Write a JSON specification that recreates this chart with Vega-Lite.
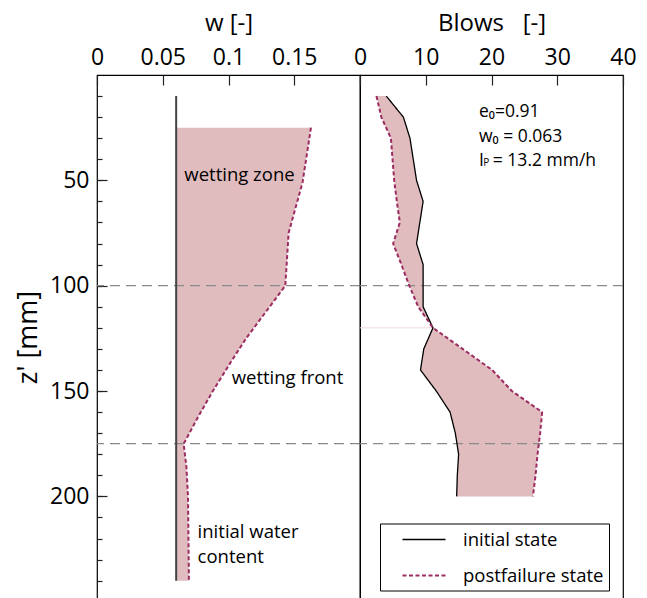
{
  "$schema": "https://vega.github.io/schema/vega-lite/v6.json",
  "background": "white",
  "padding": {"left": 13, "top": 10, "right": 0, "bottom": 0},
  "bounds": "flush",
  "spacing": 0,
  "config": {
    "font": "Open Sans",
    "view": {"stroke": "#000", "strokeWidth": 1.2},
    "axis": {
      "domain": false,
      "grid": false,
      "tickColor": "#222",
      "tickWidth": 1.2,
      "labelColor": "#000",
      "titleColor": "#000",
      "labelFont": "Open Sans",
      "titleFont": "Open Sans",
      "titleFontWeight": "normal",
      "labelFontSize": 23,
      "titleFontSize": 24,
      "labelOverlap": false,
      "labelFlush": false
    },
    "text": {"font": "Open Sans", "color": "#000"}
  },
  "datasets": {
    "water_content": [
      {"z": 10, "w_initial": 0.0602, "w_post": null},
      {"z": 25, "w_initial": 0.0602, "w_post": 0.1627},
      {"z": 51, "w_initial": 0.0602, "w_post": 0.1563},
      {"z": 75, "w_initial": 0.0602, "w_post": 0.1457},
      {"z": 100, "w_initial": 0.0602, "w_post": 0.1432},
      {"z": 125, "w_initial": 0.0602, "w_post": 0.1134},
      {"z": 136, "w_initial": 0.0602, "w_post": 0.102},
      {"z": 150, "w_initial": 0.0602, "w_post": 0.0881},
      {"z": 161, "w_initial": 0.0602, "w_post": 0.078},
      {"z": 175, "w_initial": 0.0602, "w_post": 0.0659},
      {"z": 186, "w_initial": 0.0602, "w_post": 0.068},
      {"z": 200, "w_initial": 0.0602, "w_post": 0.0692},
      {"z": 240, "w_initial": 0.0602, "w_post": 0.0699}
    ],
    "blows": [
      {"z": 10, "initial state": 4.0, "postfailure state": 2.5},
      {"z": 20, "initial state": 6.6, "postfailure state": 3.25},
      {"z": 30, "initial state": 7.6, "postfailure state": 4.7},
      {"z": 40, "initial state": 8.1, "postfailure state": 4.95},
      {"z": 50, "initial state": 8.6, "postfailure state": 5.2},
      {"z": 60, "initial state": 9.6, "postfailure state": 5.6},
      {"z": 70, "initial state": 9.1, "postfailure state": 6.06},
      {"z": 80, "initial state": 8.6, "postfailure state": 5.04},
      {"z": 90, "initial state": 9.6, "postfailure state": 6.3},
      {"z": 100, "initial state": 9.6, "postfailure state": 7.5},
      {"z": 110, "initial state": 9.6, "postfailure state": 8.85},
      {"z": 120, "initial state": 11.1, "postfailure state": 11.1},
      {"z": 130, "initial state": 9.7, "postfailure state": 15.6},
      {"z": 140, "initial state": 9.2, "postfailure state": 20.1},
      {"z": 150, "initial state": 11.6, "postfailure state": 23.1},
      {"z": 160, "initial state": 13.7, "postfailure state": 27.7},
      {"z": 170, "initial state": 14.5, "postfailure state": 27.4},
      {"z": 180, "initial state": 15.0, "postfailure state": 27.0},
      {"z": 190, "initial state": 14.8, "postfailure state": 26.7},
      {"z": 200, "initial state": 14.7, "postfailure state": 26.3}
    ],
    "boundaries": [{"z": 100}, {"z": 175}],
    "crossing": [{"z": 120, "b_start": 0, "b_end": 11.1}],
    "zone_labels": [
      {"w": 0.0664, "z": 50.3, "label": "wetting zone"},
      {"w": 0.1024, "z": 146.8, "label": "wetting front"},
      {"w": 0.0765, "z": 219.9, "label": "initial water"},
      {"w": 0.0765, "z": 231.4, "label": "content"}
    ],
    "test_conditions": [
      {"b": 18.1, "z": 19.8, "label": "e₀=0.91"},
      {"b": 18.1, "z": 32.0, "label": "w₀ = 0.063"},
      {"b": 18.1, "z": 43.3, "label": "I"},
      {"b": 20.2, "z": 43.3, "label": "= 13.2 mm/h"}
    ],
    "test_subscripts": [
      {"b": 18.75, "z": 43.3, "label": "P"}
    ]
  },
  "hconcat": [
    {
      "width": 263,
      "height": 524,
      "resolve": {"axis": {"y": "independent"}},
      "layer": [
        {
          "data": {"name": "water_content"},
          "transform": [{"filter": "datum.w_post != null"}],
          "mark": {"type": "area", "orient": "horizontal", "color": "#e1bcbe"},
          "encoding": {
            "y": {
              "field": "z",
              "type": "quantitative",
              "scale": {"domain": [0, 248.7], "reverse": true, "nice": false, "zero": false},
              "axis": {
                "orient": "left",
                "values": [10, 20, 30, 40, 50, 60, 70, 80, 90, 100, 110, 120, 130, 140, 150, 160, 170, 180, 190, 200, 210, 220, 230, 240],
                "labelExpr": "datum.value % 50 === 0 ? datum.label : ''",
                "labelOverlap": false,
                "tickSize": -5,
                "labelPadding": 13,
                "title": "z' [mm]",
                "titleFontSize": 27,
                "titlePadding": 7
              }
            },
            "x": {
              "field": "w_initial",
              "type": "quantitative",
              "scale": {"domain": [0, 0.2], "nice": false},
              "axis": {
                "orient": "top",
                "values": [0, 0.05, 0.1, 0.15],
                "format": "~g",
                "tickSize": -10,
                "labelPadding": 16,
                "title": "w [-]",
                "titlePadding": 11
              }
            },
            "x2": {"field": "w_post"}
          }
        },
        {
          "data": {"name": "boundaries"},
          "mark": {"type": "rule", "color": "#8a8a8a", "strokeDash": [10, 6], "strokeWidth": 1.3},
          "encoding": {
            "y": {
              "field": "z",
              "type": "quantitative",
              "axis": {
                "orient": "left",
                "values": [50, 100, 150, 200],
                "tickSize": -10,
                "labels": false,
                "title": null
              }
            }
          }
        },
        {
          "data": {"name": "water_content"},
          "mark": {"type": "line", "color": "#444", "strokeWidth": 2},
          "encoding": {
            "x": {"field": "w_initial", "type": "quantitative"},
            "y": {"field": "z", "type": "quantitative", "axis": null},
            "order": {"field": "z", "type": "quantitative"}
          }
        },
        {
          "data": {"name": "water_content"},
          "transform": [{"filter": "datum.w_post != null"}],
          "mark": {"type": "line", "color": "#9b2c62", "strokeDash": [4, 2.5], "strokeWidth": 2},
          "encoding": {
            "x": {"field": "w_post", "type": "quantitative"},
            "y": {"field": "z", "type": "quantitative", "axis": null},
            "order": {"field": "z", "type": "quantitative"}
          }
        },
        {
          "data": {"name": "zone_labels"},
          "mark": {"type": "text", "align": "left", "baseline": "alphabetic", "fontSize": 18.5},
          "encoding": {
            "x": {"field": "w", "type": "quantitative"},
            "y": {"field": "z", "type": "quantitative", "axis": null},
            "text": {"field": "label"}
          }
        }
      ]
    },
    {
      "width": 263,
      "height": 524,
      "layer": [
        {
          "data": {"name": "blows"},
          "mark": {"type": "area", "orient": "horizontal", "color": "#e1bcbe"},
          "encoding": {
            "y": {
              "field": "z",
              "type": "quantitative",
              "scale": {"domain": [0, 248.7], "reverse": true, "nice": false, "zero": false},
              "axis": null
            },
            "x": {
              "field": "initial state",
              "type": "quantitative",
              "scale": {"domain": [0, 40], "nice": false},
              "axis": {
                "orient": "top",
                "values": [0, 5, 10, 15, 20, 25, 30, 35, 40],
                "labelExpr": "datum.value % 10 === 0 ? datum.label : ''",
                "tickSize": -10,
                "labelPadding": 16,
                "title": "Blows\u00a0\u00a0\u00a0[-]",
                "titlePadding": 11
              }
            },
            "x2": {"field": "postfailure state"}
          }
        },
        {
          "data": {"name": "crossing"},
          "mark": {"type": "rule", "color": "#efd9da", "strokeWidth": 1},
          "encoding": {
            "x": {"field": "b_start", "type": "quantitative"},
            "x2": {"field": "b_end"},
            "y": {"field": "z", "type": "quantitative"}
          }
        },
        {
          "data": {"name": "boundaries"},
          "mark": {"type": "rule", "color": "#8a8a8a", "strokeDash": [10, 6], "strokeWidth": 1.3},
          "encoding": {"y": {"field": "z", "type": "quantitative"}}
        },
        {
          "data": {"name": "blows"},
          "transform": [{"fold": ["initial state", "postfailure state"], "as": ["state", "value"]}],
          "mark": {"type": "line"},
          "encoding": {
            "x": {"field": "value", "type": "quantitative"},
            "y": {"field": "z", "type": "quantitative"},
            "order": {"field": "z", "type": "quantitative"},
            "color": {
              "field": "state",
              "type": "nominal",
              "scale": {"domain": ["initial state", "postfailure state"], "range": ["#000000", "#9b2c62"]},
              "legend": {
                "title": null,
                "orient": "none",
                "legendX": 283,
                "legendY": 448.5,
                "strokeColor": "#000",
                "fillColor": "#fff",
                "padding": 5,
                "rowPadding": 15,
                "labelFontSize": 18.5,
                "labelFont": "Open Sans",
                "labelColor": "#000",
                "symbolType": "M-2.15,0H2.15",
                "symbolSize": 400,
                "symbolStrokeWidth": 1.6,
                "symbolOffset": 28,
                "labelOffset": 28
              }
            },
            "strokeDash": {
              "field": "state",
              "type": "nominal",
              "scale": {"domain": ["initial state", "postfailure state"], "range": [[1, 0], [4, 2.5]]}
            },
            "strokeWidth": {
              "field": "state",
              "type": "nominal",
              "scale": {"domain": ["initial state", "postfailure state"], "range": [1.3, 2]},
              "legend": null
            }
          }
        },
        {
          "data": {"name": "test_conditions"},
          "mark": {"type": "text", "align": "left", "baseline": "alphabetic", "fontSize": 17.5},
          "encoding": {
            "x": {"field": "b", "type": "quantitative"},
            "y": {"field": "z", "type": "quantitative"},
            "text": {"field": "label"}
          }
        },
        {
          "data": {"name": "test_subscripts"},
          "mark": {"type": "text", "align": "left", "baseline": "alphabetic", "fontSize": 10},
          "encoding": {
            "x": {"field": "b", "type": "quantitative"},
            "y": {"field": "z", "type": "quantitative"},
            "text": {"field": "label"}
          }
        }
      ]
    }
  ]
}
